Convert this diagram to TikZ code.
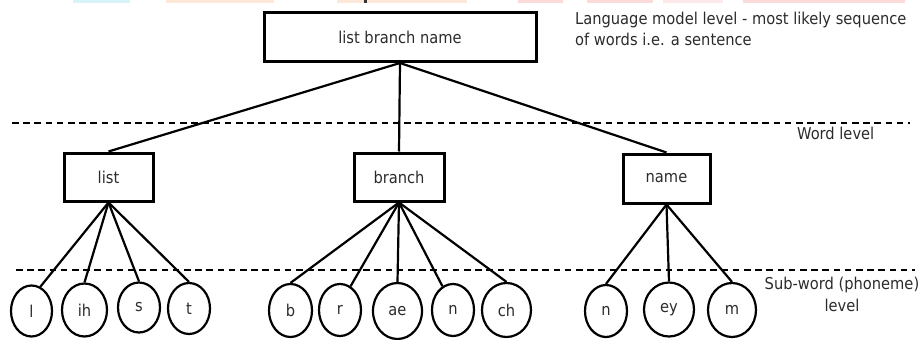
\documentclass[tikz,border=0pt]{standalone}
\usepackage{fontspec}
\setmainfont{DejaVu Sans Condensed}
\usetikzlibrary{shapes.geometric}
\definecolor{txt}{HTML}{2B2B2B}
\definecolor{stripcyan}{HTML}{D9F4F8}
\definecolor{strippeach}{HTML}{FDE8DA}
\definecolor{strippink}{HTML}{FBDADA}
\tikzset{
  every node/.style={font=\fontsize{16.3}{21.5}\selectfont, text=txt},
  wordbox/.style={draw=black, line width=3pt, rectangle, inner sep=0pt},
  phone/.style={draw=black, line width=2.2pt, ellipse, inner sep=0pt},
  link/.style={line width=2.2pt, black},
  levelline/.style={line width=2.8pt, black, dash pattern=on 6.5pt off 4.7pt},
}
\begin{document}
\begin{tikzpicture}[x=1pt, y=-1pt]
\useasboundingbox (0,0) rectangle (922,340);

% faint highlight strips along the top edge
\fill[stripcyan]  (73,0) rectangle (130,3);
\fill[strippeach] (166,0) rectangle (274,3);
\fill[strippeach] (337,0) rectangle (467,3);
\fill[black!80]   (364,0) rectangle (367,2.5);
\fill[strippink]  (518,0) rectangle (563,3);
\fill[strippink]  (587,0) rectangle (653,3);
\fill[strippink!60] (663,0) rectangle (723,3);
\fill[strippink]  (743,0) rectangle (905,3);

% level separators
\coordinate (w1) at (12,123);  \coordinate (w2) at (910,123);
\coordinate (p1) at (16,270);  \coordinate (p2) at (915,270);
\draw[levelline] (w1) -- (w2);
\draw[levelline] (p1) -- (p2);

% sentence
\node[wordbox, minimum width=272pt, minimum height=49pt] (sent) at (400,37) {list branch name};

% words
\node[wordbox, minimum width=89pt, minimum height=48pt] (list) at (108.5,177) {list};
\node[wordbox, minimum width=90pt, minimum height=48pt] (branch) at (399,177) {branch};
\node[wordbox, minimum width=87pt, minimum height=49pt] (name) at (666.5,178.5) {name};

% phonemes
\node[phone, minimum width=41pt, minimum height=51pt] (pl)  at (31.5,311) {l};
\node[phone, minimum width=45pt, minimum height=53pt] (pih) at (84.5,310) {ih};
\node[phone, minimum width=42pt, minimum height=50pt] (ps)  at (139,307.5) {s};
\node[phone, minimum width=42pt, minimum height=51pt] (pt)  at (189,308.5) {t};

\node[phone, minimum width=43pt, minimum height=53pt] (pb)  at (290.5,310.5) {b};
\node[phone, minimum width=42pt, minimum height=52pt] (pr)  at (340,310) {r};
\node[phone, minimum width=49pt, minimum height=56pt] (pae) at (397.5,311) {ae};
\node[phone, minimum width=42pt, minimum height=52pt] (pn)  at (453,310) {n};
\node[phone, minimum width=49pt, minimum height=54pt] (pch) at (506.5,310) {ch};

\node[phone, minimum width=42pt, minimum height=52pt] (pn2) at (606,311) {n};
\node[phone, minimum width=50pt, minimum height=54pt] (pey) at (669,309.5) {ey};
\node[phone, minimum width=48pt, minimum height=54pt] (pm)  at (732,310) {m};

% sentence to words
\draw[link] (sent.south) -- (list.north);
\draw[link] (sent.south) -- (branch.north);
\draw[link] (sent.south) -- (name.north);

% words to phonemes
\draw[link] (list.south) -- (pl.70);
\draw[link] (list.south) -- (pih.north);
\draw[link] (list.south) -- (ps.north);
\draw[link] (list.south) -- (pt.north);

\draw[link] (branch.south) -- (pb.north);
\draw[link] (branch.south) -- (pr.66);
\draw[link] (branch.south) -- (pae.north);
\draw[link] (branch.south) -- (pn.114);
\draw[link] (branch.south) -- (pch.north);

\draw[link] (name.south) -- (pn2.north);
\draw[link] (name.south) -- (pey.north);
\draw[link] (name.south) -- (pm.north);

% level labels (multi-line nodes are placed by the baseline of their last line)
\node[anchor=base west, align=left, inner sep=0pt] (lmlabel) at (575,45.5)
  {Language model level - most likely sequence\\of words i.e. a sentence};
\node[anchor=base west, inner sep=0pt] (wlabel) at (797,139) {Word level};
\node[anchor=base, align=center, inner sep=0pt] (plabel) at (842,311)
  {Sub-word (phoneme)\\level};
\end{tikzpicture}
\end{document}
